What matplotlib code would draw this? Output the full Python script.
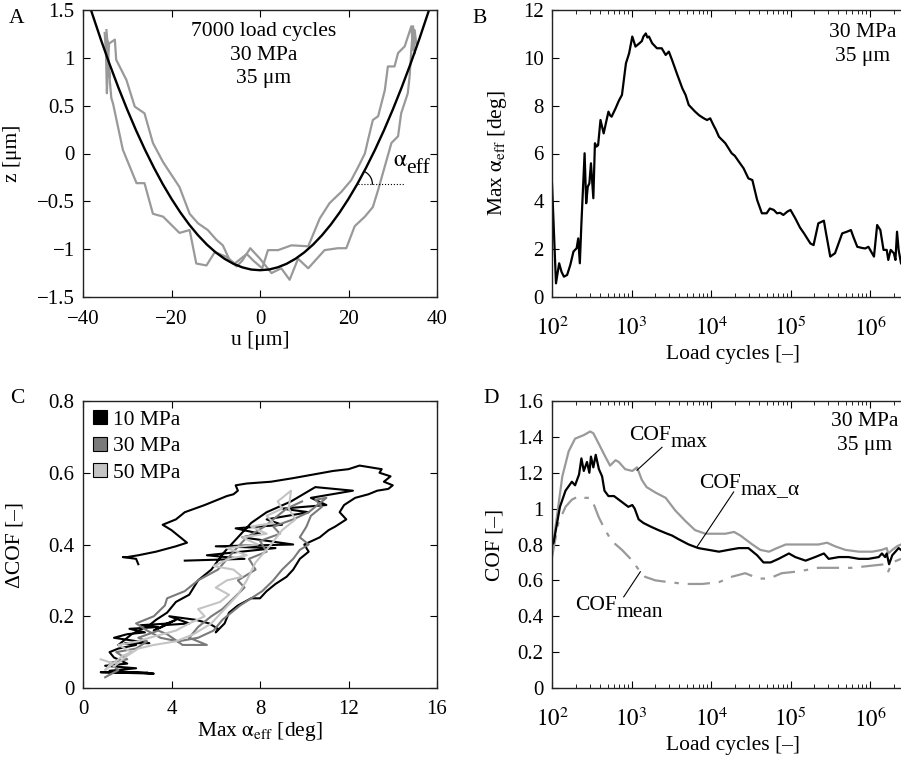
import numpy as np
import matplotlib
matplotlib.use("Agg")
import matplotlib.pyplot as plt
from matplotlib.ticker import FuncFormatter, LogLocator, NullFormatter, FixedLocator
from matplotlib.lines import Line2D

plt.rcParams['font.family'] = ['Liberation Serif', 'DejaVu Serif']
plt.rcParams['mathtext.fontset'] = 'stix'
plt.rcParams['font.size'] = 15

# ---------------- Panel A data ----------------
fit_u = [-38.2, -38, -36, -34, -32, -30, -28, -26, -24, -22, -20, -18, -16, -14, -12, -10, -8, -6, -4, -2, 0,
         2, 4, 6, 8, 10, 12, 14, 16, 18, 20, 22, 24, 26, 28, 30, 32, 34, 36, 38, 38.2]
fit_z = [1.50, 1.472, 1.196, 0.935, 0.689, 0.458, 0.241, 0.040, -0.146, -0.318, -0.474, -0.616, -0.743, -0.855,
         -0.952, -1.034, -1.101, -1.153, -1.190, -1.213, -1.22,
         -1.213, -1.190, -1.153, -1.101, -1.034, -0.952, -0.855, -0.743, -0.616, -0.474, -0.318, -0.146, 0.040,
         0.241, 0.458, 0.689, 0.935, 1.196, 1.472, 1.50]

prof1_u = [-34.7, -34.35, -34.6, -34.0, -34.3, -33.6, -33.2, -31.0, -27.9, -26.1, -24.2, -21.9, -18.2, -15.9, -14.4,
           -12.1, -10.2, -7.6, -5.7, -3.0, -1.5, 0.5, 1.8, 4.1, 7.1, 10.9, 13.5, 15.7, 18.4, 20.6, 22.2, 23.7,
           24.4, 25.5, 26.7, 28.2, 28.9, 30.4, 31.2, 32.7, 34.2, 34.6, 34.95, 35.3]
prof1_z = [1.29, 1.08, 1.20, 0.80, 0.95, 0.58, 0.52, 0.04, -0.31, -0.31, -0.63, -0.66, -0.83, -0.80, -1.15,
           -1.17, -1.03, -1.08, -1.15, -1.05, -1.12, -1.20, -1.01, -1.01, -0.96, -0.97, -0.68, -0.52, -0.40, -0.28,
           -0.14, 0.0, 0.14, 0.35, 0.39, 0.66, 0.91, 0.91, 1.05, 1.12, 1.33, 1.08, 1.29, 1.15]

prof2_u = [-35.1, -34.8, -34.6, -34.3, -34.1, -32.8, -32.5, -30.2, -28.3, -26.1, -24.2, -21.9, -21.2, -18.2, -15.9,
           -14.0, -11.8, -9.9, -8.4, -6.9, -5.3, -4.0, -2.2, 0.0, 2.6, 4.8, 6.7, 8.6, 10.9, 14.6, 17.6, 19.5,
           21.4, 23.7, 25.5, 26.7, 28.6, 29.7, 31.2, 31.9, 33.4, 33.8, 34.2, 34.6, 35.0]
prof2_z = [1.26, 1.05, 0.63, 1.00, 1.15, 1.19, 0.98, 0.77, 0.49, 0.42, 0.11, -0.09, -0.14, -0.35, -0.63,
           -0.73, -0.80, -0.90, -0.96, -1.11, -1.18, -1.12, -0.99, -1.10, -1.25, -1.20, -1.32, -1.10, -1.20,
           -1.01, -0.99, -0.99, -0.76, -0.66, -0.56, -0.38, -0.07, 0.11, 0.18, 0.42, 0.63, 0.80, 1.08, 1.33, 1.05]

# ---------------- Panel B data ----------------
b_logN = [2.0, 2.05, 2.09, 2.12, 2.15, 2.19, 2.23, 2.27, 2.31, 2.33, 2.35, 2.37, 2.41, 2.43, 2.45, 2.47, 2.49,
          2.52, 2.54, 2.56, 2.58, 2.61, 2.65, 2.68, 2.71, 2.73, 2.75, 2.80, 2.84, 2.88, 2.93, 2.97, 3.01, 3.05,
          3.10, 3.13, 3.15, 3.18, 3.20, 3.22, 3.26, 3.32, 3.38, 3.43, 3.47, 3.51, 3.57, 3.64, 3.68, 3.72, 3.80,
          3.85, 3.91, 3.95, 3.99, 4.03, 4.06, 4.10, 4.18, 4.26, 4.30, 4.35, 4.41, 4.47, 4.52, 4.58, 4.64, 4.70,
          4.74, 4.79, 4.83, 4.87, 4.91, 4.96, 5.00, 5.06, 5.12, 5.17, 5.25, 5.29, 5.35, 5.42, 5.44, 5.50, 5.56,
          5.65, 5.71, 5.76, 5.79, 5.84, 5.90, 5.94, 5.98, 6.05, 6.09, 6.13, 6.17, 6.21, 6.23, 6.26, 6.30, 6.32,
          6.34, 6.36, 6.39]
b_alpha = [4.75, 0.57, 1.41, 1.05, 0.85, 0.92, 1.34, 1.90, 2.04, 2.45, 1.41, 3.08, 6.01, 3.92, 4.61, 4.75, 5.59,
           4.13, 6.43, 6.29, 6.35, 7.40, 6.84, 7.30, 7.75, 7.60, 7.54, 7.89, 8.20, 8.45, 9.77, 10.19, 10.89, 10.47,
           10.61, 10.70, 10.89, 11.02, 10.85, 10.89, 10.61, 10.40, 10.40, 10.12, 10.26, 9.91, 9.35, 8.72, 8.45,
           8.03, 7.75, 7.60, 7.47, 7.40, 7.47, 7.19, 7.00, 6.70, 6.43, 6.01, 5.90, 5.66, 5.38, 4.96, 4.89, 4.06,
           3.50, 3.50, 3.70, 3.64, 3.50, 3.52, 3.43, 3.57, 3.64, 3.29, 2.90, 2.66, 2.24, 2.17, 3.08, 3.19, 2.80,
           1.69, 1.83, 2.66, 2.73, 2.80, 2.52, 2.10, 2.05, 2.03, 2.10, 1.69, 3.01, 2.80, 1.97, 1.97, 1.55, 1.97,
           1.83, 1.55, 2.73, 1.97, 1.41]

# ---------------- Panel C data ----------------
c10_x = [2.9, 0.8, 3.2, 1.2, 2.4, 1.0, 2.0, 1.4, 1.2, 1.6, 2.4, 1.9, 3.0, 1.4, 2.0, 2.8, 2.1, 3.4, 2.6, 3.9, 3.2,
         4.2, 3.6, 4.8, 3.9, 5.1, 5.7, 6.1, 6.0, 6.4, 6.6, 7.0, 7.6, 8.0, 8.3, 8.7, 9.2, 9.5, 9.8, 10.2, 10.0,
         10.7, 11.1, 11.4, 11.9, 11.6, 11.8, 12.3, 12.9, 13.3, 13.8, 14.0, 13.6, 13.9, 13.4, 13.5, 13.0, 12.5,
         12.0, 11.3, 10.4, 9.5, 8.5, 7.4, 6.9, 7.0, 6.8, 6.5, 5.5, 4.6, 4.2, 3.6, 4.0, 4.7, 4.2, 3.3, 2.5, 2.0,
         1.8, 2.4, 2.5]
c10_y = [0.043, 0.044, 0.040, 0.048, 0.055, 0.062, 0.068, 0.085, 0.10, 0.11, 0.12, 0.125, 0.125, 0.14, 0.15,
         0.155, 0.165, 0.17, 0.175, 0.18, 0.16, 0.19, 0.175, 0.18, 0.20, 0.19, 0.18, 0.165, 0.155, 0.18, 0.21,
         0.23, 0.25, 0.25, 0.27, 0.29, 0.31, 0.33, 0.36, 0.38, 0.40, 0.42, 0.44, 0.45, 0.47, 0.49, 0.51, 0.53,
         0.54, 0.55, 0.555, 0.565, 0.575, 0.59, 0.60, 0.61, 0.615, 0.62, 0.61, 0.605, 0.595, 0.585, 0.575, 0.57,
         0.565, 0.55, 0.54, 0.535, 0.51, 0.49, 0.47, 0.455, 0.44, 0.405, 0.395, 0.38, 0.37, 0.365, 0.365, 0.36,
         0.345]
c10b_x = [4.6, 7.3, 5.6, 8.7, 6.0, 9.5, 7.2, 8.0, 6.9, 9.0, 8.3, 10.2, 9.0, 11.0, 10.3, 12.2, 10.5, 9.4, 8.3,
          7.6, 7.0, 6.4, 5.8, 5.2, 4.8, 4.2, 3.8, 3.3, 3.0, 2.2, 1.6]
c10b_y = [0.355, 0.36, 0.37, 0.39, 0.395, 0.40, 0.42, 0.43, 0.445, 0.455, 0.47, 0.49, 0.50, 0.51, 0.53, 0.55,
          0.56, 0.52, 0.49, 0.46, 0.42, 0.38, 0.33, 0.30, 0.26, 0.24, 0.21, 0.19, 0.175, 0.15, 0.12]
c30_x = [1.0, 1.6, 1.2, 2.0, 1.5, 2.4, 2.9, 2.5, 3.4, 3.8, 4.5, 5.6, 4.8, 5.2, 5.8, 6.3, 6.8, 7.3, 7.0, 7.8, 7.5,
         8.3, 8.0, 8.9, 8.6, 9.5, 10.2, 10.6, 11.0, 10.5, 10.8, 10.3, 10.1, 9.8, 10.2, 9.8, 9.5, 9.0, 8.6, 8.1,
         7.6, 7.1, 6.7, 6.3, 5.9, 5.2, 4.3, 3.5, 2.9, 2.4, 3.2, 3.7, 3.8, 4.6, 5.2, 6.1, 6.8, 7.4, 8.2, 8.8, 9.2,
         9.9]
c30_y = [0.03, 0.05, 0.07, 0.08, 0.10, 0.11, 0.13, 0.14, 0.16, 0.15, 0.12, 0.12, 0.14, 0.17, 0.20, 0.22, 0.25,
         0.28, 0.30, 0.33, 0.36, 0.38, 0.41, 0.43, 0.45, 0.47, 0.49, 0.51, 0.53, 0.525, 0.505, 0.48, 0.45, 0.42,
         0.40, 0.385, 0.36, 0.33, 0.30, 0.27, 0.25, 0.23, 0.21, 0.19, 0.16, 0.14, 0.13, 0.14, 0.16, 0.18, 0.20,
         0.23, 0.25, 0.27, 0.30, 0.33, 0.38, 0.42, 0.45, 0.48, 0.50, 0.52]
c50_x = [0.8, 1.3, 1.0, 1.8, 2.2, 1.6, 2.5, 3.0, 3.6, 4.2, 4.8, 5.5, 5.2, 6.2, 6.6, 6.0, 6.5, 7.2, 6.8, 5.9, 6.6,
         7.4, 6.5, 7.9, 7.2, 8.3, 7.6, 8.6, 8.3, 9.0, 8.8, 9.4, 9.3, 9.6, 9.0, 8.5, 7.8, 7.4, 7.0, 6.4, 5.8, 5.0,
         4.2, 3.2, 2.5, 2.0, 1.4]
c50_y = [0.08, 0.07, 0.05, 0.09, 0.10, 0.12, 0.13, 0.14, 0.15, 0.16, 0.18, 0.20, 0.22, 0.24, 0.26, 0.28, 0.30,
         0.31, 0.33, 0.34, 0.36, 0.37, 0.39, 0.40, 0.42, 0.43, 0.45, 0.46, 0.48, 0.50, 0.52, 0.55, 0.50, 0.47,
         0.44, 0.40, 0.35, 0.30, 0.26, 0.22, 0.18, 0.15, 0.13, 0.12, 0.11, 0.09, 0.06]
c_labels = ["10 MPa", "30 MPa", "50 MPa"]

# ---------------- Panel D data ----------------
dmax_logN = [2.0, 2.06, 2.13, 2.21, 2.29, 2.40, 2.48, 2.52, 2.59, 2.67, 2.73, 2.80, 2.84, 2.92, 3.01, 3.07, 3.13,
             3.19, 3.30, 3.43, 3.55, 3.68, 3.80, 3.93, 4.05, 4.18, 4.29, 4.37, 4.52, 4.62, 4.73, 4.83, 4.94,
             5.14, 5.35, 5.46, 5.56, 5.69, 5.86, 6.03, 6.15, 6.21, 6.23, 6.28, 6.34, 6.39]
dmax_cof = [0.75, 0.95, 1.18, 1.32, 1.39, 1.41, 1.43, 1.42, 1.36, 1.29, 1.24, 1.27, 1.26, 1.22, 1.21, 1.23, 1.16,
            1.12, 1.09, 1.06, 0.99, 0.93, 0.88, 0.86, 0.86, 0.86, 0.87, 0.85, 0.80, 0.77, 0.76, 0.78, 0.80,
            0.80, 0.80, 0.81, 0.79, 0.77, 0.76, 0.76, 0.77, 0.78, 0.75, 0.77, 0.79, 0.80]
dalpha_logN = [2.0, 2.02, 2.04, 2.10, 2.17, 2.25, 2.29, 2.34, 2.37, 2.40, 2.44, 2.47, 2.49, 2.52, 2.55, 2.59,
               2.63, 2.66, 2.71, 2.78, 2.84, 2.90, 2.96, 3.01, 3.04, 3.09, 3.15, 3.24, 3.34, 3.45, 3.51, 3.59,
               3.72, 3.84, 3.97, 4.10, 4.22, 4.35, 4.47, 4.58, 4.66, 4.75, 4.85, 4.98, 5.06, 5.19, 5.31, 5.42,
               5.48, 5.61, 5.73, 5.86, 5.98, 6.11, 6.15, 6.19, 6.21, 6.24, 6.28, 6.32, 6.36, 6.39]
dalpha_cof = [0.80, 0.81, 0.86, 1.01, 1.10, 1.15, 1.13, 1.19, 1.28, 1.21, 1.26, 1.20, 1.29, 1.23, 1.30, 1.22,
              1.18, 1.10, 1.07, 1.07, 1.05, 1.03, 1.01, 1.02, 1.00, 0.94, 0.92, 0.90, 0.88, 0.86, 0.85, 0.83,
              0.80, 0.78, 0.77, 0.76, 0.77, 0.78, 0.78, 0.74, 0.70, 0.70, 0.72, 0.75, 0.73, 0.71, 0.73, 0.75,
              0.72, 0.73, 0.73, 0.72, 0.72, 0.73, 0.75, 0.73, 0.75, 0.69, 0.74, 0.76, 0.78, 0.77]
dmean_logN = [2.0, 2.08, 2.17, 2.25, 2.34, 2.42, 2.48, 2.52, 2.59, 2.67, 2.75, 2.88, 3.01, 3.09, 3.17, 3.30,
              3.47, 3.68, 3.89, 4.10, 4.26, 4.43, 4.60, 4.73, 4.89, 5.10, 5.35, 5.56, 5.77, 5.98, 6.19, 6.23,
              6.28, 6.39]
dmean_cof = [0.73, 0.92, 1.01, 1.05, 1.07, 1.06, 1.06, 1.03, 0.95, 0.88, 0.82, 0.77, 0.71, 0.66, 0.62, 0.60,
             0.59, 0.58, 0.58, 0.59, 0.62, 0.64, 0.61, 0.61, 0.64, 0.65, 0.67, 0.67, 0.67, 0.68, 0.69, 0.65,
             0.70, 0.72]
log_ticks = [2, 3, 4, 5, 6]

W, H = 901, 760
fig = plt.figure(figsize=(W / 100, H / 100), dpi=100)
FS = 15.5


def box(l, t, r, b):
    return [l / W, 1 - b / H, (r - l) / W, (b - t) / H]


def fmt(v, pos):
    s = f"{v:g}"
    return s.replace('-', '\u2212')


def style(ax):
    for s in ax.spines.values():
        s.set_linewidth(1.0)
        s.set_color('#222222')
    ax.tick_params(which='major', direction='in', top=True, right=True, length=5, width=0.8,
                   labelsize=15, pad=6)
    ax.tick_params(which='minor', direction='in', top=True, right=True, length=3, width=0.6)


def logx(ax):
    ax.set_xscale('log')
    ax.set_xlim(1e2, 10 ** 6.6)
    ax.xaxis.set_major_locator(FixedLocator([10.0 ** k for k in log_ticks]))
    ax.xaxis.set_major_formatter(FuncFormatter(lambda v, p: r'$10^{%d}$' % round(np.log10(v))))
    ax.xaxis.set_minor_locator(LogLocator(base=10, subs=np.arange(2, 10), numticks=20))
    ax.xaxis.set_minor_formatter(NullFormatter())
    ax.tick_params(axis='x', which='major', labelsize=16.5, pad=14)


def subtext(ax, x, y, main, sub, size=FS, subsize=FS, dy=-1, color='black'):
    t = ax.text(x, y, main, fontsize=size, va='baseline', ha='left', color=color)
    ax.annotate(sub, xy=(1, 0), xycoords=t, xytext=(-0.5, dy), textcoords='offset points',
                fontsize=subsize, va='baseline', ha='left', color=color)
    return t


gray = '#999999'
alpha_up = r'$\mathrm{\alpha}$'

# ---------- A ----------
axA = fig.add_axes(box(83, 10, 437, 297))
style(axA)
axA.plot(prof1_u, prof1_z, color=gray, lw=1.6)
axA.plot(prof2_u, prof2_z, color=gray, lw=1.6)
axA.plot(fit_u, fit_z, color='black', lw=1.7)
axA.set_xlim(-40, 40)
axA.set_ylim(-1.5, 1.5)
axA.set_xticks([-40, -20, 0, 20, 40])
axA.set_yticks([-1.5, -1, -0.5, 0, 0.5, 1, 1.5])
axA.xaxis.set_major_formatter(FuncFormatter(fmt))
axA.yaxis.set_major_formatter(FuncFormatter(fmt))
axA.tick_params(axis='x', pad=9)
axA.set_xlabel('u [\u03bcm]', fontsize=FS, va='top')
axA.set_ylabel('z [\u03bcm]', fontsize=FS)
axA.xaxis.set_label_coords(0.5, -0.118)
axA.yaxis.set_label_coords(-0.172, 0.5)
axA.text(0.511, 0.958, '7000 load cycles\n30 MPa\n35 \u03bcm', transform=axA.transAxes,
         ha='center', va='top', fontsize=FS, linespacing=1.32)
# alpha_eff angle annotation
u0, z0 = 22.2, -0.32
axA.plot([u0, 32.7], [z0, z0], color='black', lw=0.8, ls=':')
t = np.linspace(0, np.radians(61), 30)
axA.plot(u0 + 3.2 * np.cos(t), z0 + 0.146 * np.sin(t), color='black', lw=0.9)
subtext(axA, 30.0, -0.13, alpha_up, 'eff', size=17, subsize=FS, dy=-1.5)

# ---------- B ----------
axB = fig.add_axes(box(552, 10, 917.7, 297))
style(axB)
logx(axB)
axB.plot(10 ** np.array(b_logN), b_alpha, color='black', lw=1.6)
axB.set_ylim(0, 12)
axB.set_yticks([0, 2, 4, 6, 8, 10, 12])
axB.set_xlabel('Load cycles [\u2013]', fontsize=FS, va='top')
axB.set_ylabel(r'Max $\mathrm{\alpha}_{\mathrm{eff}}$ [deg]', fontsize=FS)
axB.xaxis.set_label_coords(0.495, -0.168)
axB.yaxis.set_label_coords(-0.118, 0.5)
axB.text(0.85, 0.955, '30 MPa\n35 \u03bcm', transform=axB.transAxes, ha='center', va='top',
         fontsize=FS, linespacing=1.38)

# ---------- C ----------
axC = fig.add_axes(box(83, 401, 437, 688))
style(axC)
c_cols = ['black', '#7a7a7a', '#c4c4c4']
axC.plot(c10_x, c10_y, color=c_cols[0], lw=1.5)
axC.plot(c10b_x, c10b_y, color=c_cols[0], lw=1.5)
axC.plot(c30_x, c30_y, color=c_cols[1], lw=1.5)
axC.plot(c50_x, c50_y, color=c_cols[2], lw=1.5)
axC.set_xlim(0, 16)
axC.set_ylim(0, 0.8)
axC.set_xticks([0, 4, 8, 12, 16])
axC.set_yticks([0, 0.2, 0.4, 0.6, 0.8])
axC.xaxis.set_major_formatter(FuncFormatter(fmt))
axC.yaxis.set_major_formatter(FuncFormatter(fmt))
axC.tick_params(axis='x', pad=9)
axC.set_xlabel(r'Max $\mathrm{\alpha}_{\mathrm{eff}}$ [deg]', fontsize=FS, va='top')
axC.set_ylabel('\u0394COF [\u2013]', fontsize=FS)
axC.xaxis.set_label_coords(0.5, -0.11)
axC.yaxis.set_label_coords(-0.165, 0.5)
handles = [Line2D([], [], marker='s', ls='None', markersize=10, markerfacecolor=c,
                  markeredgecolor='black', markeredgewidth=0.8) for c in c_cols]
axC.legend(handles, c_labels, loc='upper left', frameon=False, fontsize=FS, handlelength=0.8,
           handletextpad=0.2, labelspacing=0.3, borderaxespad=0.2, borderpad=0.2)

# ---------- D ----------
axD = fig.add_axes(box(552, 401, 917.7, 688))
style(axD)
logx(axD)
axD.plot(10 ** np.array(dmax_logN), dmax_cof, color=gray, lw=1.6)
axD.plot(10 ** np.array(dmean_logN), dmean_cof, color=gray, lw=1.6, ls=(0, (10, 4, 2, 4)))
axD.plot(10 ** np.array(dalpha_logN), dalpha_cof, color='black', lw=1.6)
axD.set_ylim(0, 1.6)
axD.set_yticks([0, 0.2, 0.4, 0.6, 0.8, 1.0, 1.2, 1.4, 1.6])
axD.yaxis.set_major_formatter(FuncFormatter(fmt))
axD.set_xlabel('Load cycles [\u2013]', fontsize=FS, va='top')
axD.set_ylabel('COF [\u2013]', fontsize=FS)
axD.xaxis.set_label_coords(0.495, -0.168)
axD.yaxis.set_label_coords(-0.13, 0.5)
axD.text(0.855, 0.96, '30 MPa\n35 \u03bcm', transform=axD.transAxes, ha='center', va='top',
         fontsize=FS, linespacing=1.3)
subtext(axD, 10 ** 2.969, 1.38, 'COF', 'max')
axD.plot([10 ** 3.384, 10 ** 3.069], [1.342, 1.214], color='black', lw=0.8)
subtext(axD, 10 ** 3.849, 1.114, 'COF', 'max_' + '\u03b1')
axD.plot([10 ** 4.285, 10 ** 3.824], [1.093, 0.787], color='black', lw=0.8)
subtext(axD, 10 ** 2.289, 0.434, 'COF', 'mean')
axD.plot([10 ** 2.902, 10 ** 3.111], [0.508, 0.648], color='black', lw=0.8)

# panel letters
for letter, x, y in [('A', 9, 23), ('B', 472, 23), ('C', 10, 403), ('D', 483, 403)]:
    fig.text(x / W, 1 - y / H, letter, fontsize=FS, ha='left', va='baseline')

fig.savefig('out.png', dpi=100)
